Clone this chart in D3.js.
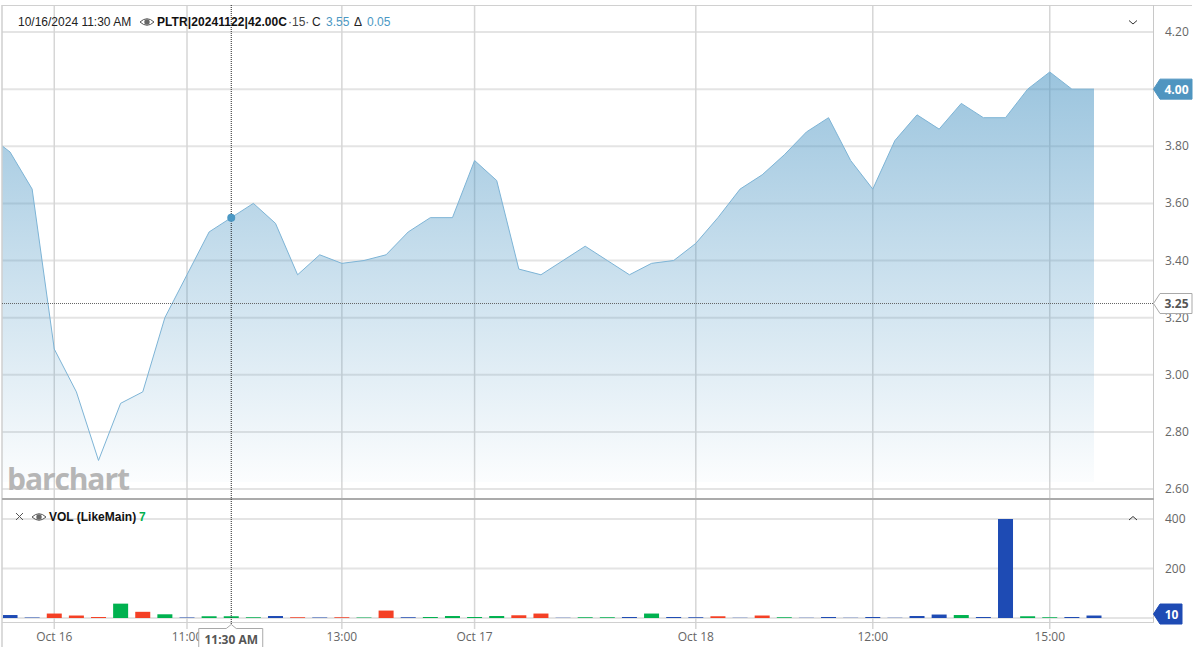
<!DOCTYPE html>
<html>
<head>
<meta charset="utf-8">
<script src="https://cdn.jsdelivr.net/npm/d3@7"></script>
<style>
  html, body { margin: 0; padding: 0; background: #fff; overflow: hidden; }
  text { font-family: "Open Sans", sans-serif; }
  .hdr text { font-family: "Liberation Sans", Arial, sans-serif; font-size: 12px; }
</style>
</head>
<body>
<div id="chart"></div>
<script>
// first entry sits left of the frame, it only shows as the clipped start of the line
const closes = [3.84, 3.78, 3.65, 3.09, 2.94, 2.70, 2.90, 2.94, 3.20, 3.35, 3.50, 3.55, 3.60, 3.53, 3.35, 3.42, 3.39, 3.40, 3.42,
  3.50, 3.55, 3.55, 3.75, 3.68, 3.37, 3.35, 3.40, 3.45, 3.40, 3.35, 3.39, 3.40, 3.46, 3.55, 3.65, 3.70, 3.77, 3.85, 3.90,
  3.75, 3.65, 3.82, 3.91, 3.86, 3.95, 3.90, 3.90, 4.00, 4.06, 4.00, 4.00];
const volumes = [5, 12, 2, 18, 10, 4, 58, 25, 15, 2, 7, 7, 3, 8, 3, 2, 3, 2, 30,
  3, 4, 8, 4, 8, 11, 18, 1, 3, 3, 4, 18, 4, 3, 7, 1, 10, 3, 1, 4,
  1, 4, 1, 8, 14, 12, 4, 400, 7, 3, 4, 10];
// u = up, d = down, n = unchanged
const volumeDirs = "nnnddd udunu uundn dudnu uuudd nuunu nndnd unnnn nnnun nuunn".replace(/ /g, "").split("");
const priceTicks = [4.2, 4.0, 3.8, 3.6, 3.4, 3.2, 3.0, 2.8, 2.6];
const volTicks = [400, 200];
const timeTickIdx = [3, 9, 16, 22, 32, 40, 48];
const timeTickLabels = ["Oct 16", "11:00", "13:00", "Oct 17", "Oct 18", "12:00", "15:00"];
const hoverIdx = 11;
const lastClose = 4.00;
const crossPrice = 3.25;
const lastVol = 10;

const W = 1203, H = 647;
const plotL = 2, plotR = 1153, plotT = 5, plotB = 622, split = 499;

const x = d3.scaleLinear().domain([0, 50]).range([-12.1, 1094]);
const y = d3.scaleLinear().domain([2.6, 4.2]).range([489, 32]);
const yVol = d3.scaleLinear().domain([0, 400]).range([618, 519]);
const volColor = { u: "#00b14f", d: "#f44025", n: "#1e4bb4" };

const svg = d3.select("#chart").append("svg").attr("width", W).attr("height", H).style("display", "block");

const defs = svg.append("defs");
const grad = defs.append("linearGradient").attr("id", "fade")
  .attr("gradientUnits", "userSpaceOnUse").attr("x1", 0).attr("x2", 0).attr("y1", y(4.06)).attr("y2", 482);
grad.append("stop").attr("offset", 0).attr("stop-color", "#4c96c4").attr("stop-opacity", 0.56);
grad.append("stop").attr("offset", 1).attr("stop-color", "#4c96c4").attr("stop-opacity", 0.02);
defs.append("clipPath").attr("id", "plot").append("rect")
  .attr("x", plotL).attr("y", plotT).attr("width", plotR - plotL).attr("height", split - plotT);

// grid
const grid = svg.append("g");
grid.selectAll(".h").data(priceTicks).join("line").attr("class", "h")
  .attr("x1", plotL).attr("x2", plotR).attr("y1", d => y(d)).attr("y2", d => y(d))
  .attr("stroke", "#e4e4e4").attr("stroke-width", 2);
grid.selectAll(".hv").data([...volTicks, 0]).join("line").attr("class", "hv")
  .attr("x1", plotL).attr("x2", plotR).attr("y1", d => yVol(d)).attr("y2", d => yVol(d))
  .attr("stroke", "#e4e4e4").attr("stroke-width", 2);
grid.selectAll(".v").data(timeTickIdx).join("line").attr("class", "v")
  .attr("x1", d => x(d)).attr("x2", d => x(d)).attr("y1", plotT).attr("y2", 629)
  .attr("stroke", "#d6d6d6").attr("stroke-width", 1.5);

// price area and line
const plot = svg.append("g").attr("clip-path", "url(#plot)");
plot.append("path").datum(closes)
  .attr("fill", "url(#fade)")
  .attr("d", d3.area().x((d, i) => x(i)).y0(482).y1(d => y(d)));
plot.append("path").datum(closes)
  .attr("fill", "none").attr("stroke", "#7db4d6").attr("stroke-width", 1)
  .attr("d", d3.line().x((d, i) => x(i)).y(d => y(d)));

// frame
svg.append("line").attr("x1", plotL).attr("x2", plotL).attr("y1", plotT).attr("y2", 647).attr("stroke", "#cfcfcf").attr("stroke-width", 1.5);
svg.append("line").attr("x1", plotL).attr("x2", 1192).attr("y1", plotT + 0.5).attr("y2", plotT + 0.5).attr("stroke", "#d0d0d0");
svg.append("line").attr("x1", plotR + 0.5).attr("x2", plotR + 0.5).attr("y1", plotT).attr("y2", plotB + 1).attr("stroke", "#c8c8c8");
svg.append("line").attr("x1", plotL).attr("x2", plotR + 1).attr("y1", plotB + 0.5).attr("y2", plotB + 0.5).attr("stroke", "#d0d0d0");
svg.append("line").attr("x1", plotL).attr("x2", plotR + 1).attr("y1", split).attr("y2", split).attr("stroke", "#ababab").attr("stroke-width", 2);

// volume bars
svg.append("g").selectAll("rect").data(volumes.slice(1)).join("rect")
  .attr("x", (d, i) => Math.max(x(i + 1) - 7.5, plotL + 1))
  .attr("width", (d, i) => x(i + 1) + 7.5 - Math.max(x(i + 1) - 7.5, plotL + 1))
  .attr("y", d => yVol(d))
  .attr("height", d => yVol(0) - yVol(d))
  .attr("fill", (d, i) => volColor[volumeDirs[i + 1]]);

// watermark
svg.append("text").attr("x", 7).attr("y", 489.5).attr("fill", "#b6b6b6")
  .attr("font-size", 30).attr("font-weight", 700).attr("letter-spacing", -1.1).text("barchart");

// axis labels
const axisLabel = sel => sel.attr("fill", "#666").attr("font-size", 12);
svg.append("g").selectAll("text").data(priceTicks).join("text")
  .attr("x", 1165).attr("y", d => y(d) + 4).call(axisLabel).text(d => d.toFixed(2));
svg.append("g").selectAll("text").data(volTicks).join("text")
  .attr("x", 1165).attr("y", d => yVol(d) + 4).call(axisLabel).text(d => d);
svg.append("g").selectAll("text").data(timeTickIdx).join("text")
  .attr("x", d => x(d)).attr("y", 641).attr("text-anchor", "middle").call(axisLabel)
  .text((d, i) => timeTickLabels[i]);

// crosshair
const hx = x(hoverIdx);
const crossY = Math.round(y(crossPrice)) + 0.5;
svg.append("line").attr("x1", hx).attr("x2", hx).attr("y1", plotT).attr("y2", 625)
  .attr("stroke", "#222").attr("stroke-dasharray", "1,1");
svg.append("line").attr("x1", plotL).attr("x2", plotR).attr("y1", crossY).attr("y2", crossY)
  .attr("stroke", "#666").attr("stroke-dasharray", "1,1");
svg.append("circle").attr("cx", hx).attr("cy", y(closes[hoverIdx])).attr("r", 4).attr("fill", "#4b98c4");

// flags on the price axis
const flag = (yy, w, fill, stroke, textFill, label) => {
  const g = svg.append("g").attr("transform", `translate(${plotR}, ${yy})`);
  g.append("path").attr("d", `M0.5,0 L7,-10 L${w},-10 L${w},10 L7,10 Z`).attr("fill", fill).attr("stroke", stroke);
  g.append("text").attr("x", (w + 8) / 2).attr("y", 4.5).attr("text-anchor", "middle")
    .attr("font-size", 12).attr("font-weight", 700).attr("fill", textFill).text(label);
};
flag(crossY, 39, "#fff", "#a9a9a9", "#555", crossPrice.toFixed(2));
flag(y(lastClose), 39, "#4f95c0", "#4f95c0", "#fff", lastClose.toFixed(2));
flag(yVol(lastVol) - 1.5, 29, "#1e4bb4", "#1e4bb4", "#fff", lastVol);

// hover time box
svg.append("path")
  .attr("d", `M${hx - 32.5},647 L${hx - 32.5},628.5 L${hx - 5},628.5 L${hx},624.5 L${hx + 5},628.5 L${hx + 31.5},628.5 L${hx + 31.5},647`)
  .attr("fill", "#fff").attr("stroke", "#a9a9a9");
svg.append("text").attr("x", hx).attr("y", 644).attr("text-anchor", "middle")
  .attr("font-size", 12).attr("font-weight", 700).attr("fill", "#555").text("11:30 AM");

// header
const eye = (ex, ey) => {
  const g = svg.append("g").attr("transform", `translate(${ex}, ${ey})`);
  g.append("path").attr("d", "M0,0 Q7,-6.5 14,0 Q7,6.5 0,0 Z").attr("fill", "none").attr("stroke", "#555").attr("stroke-width", 1);
  g.append("circle").attr("r", 2.7).attr("cx", 7).attr("fill", "#666");
};
const hdr = svg.append("g").attr("class", "hdr");
hdr.append("text").attr("x", 18).attr("y", 26).attr("fill", "#222").text("10/16/2024 11:30 AM");
eye(140, 22);
hdr.append("text").attr("x", 157).attr("y", 26).attr("fill", "#111").attr("font-weight", 700).attr("textLength", 130).text("PLTR|20241122|42.00C");
hdr.append("text").attr("x", 288).attr("y", 26).attr("fill", "#444").text("·15·");
hdr.append("text").attr("x", 312).attr("y", 26).attr("fill", "#222").text("C");
hdr.append("text").attr("x", 326).attr("y", 26).attr("fill", "#4b98c4").text(closes[hoverIdx].toFixed(2));
hdr.append("text").attr("x", 354).attr("y", 26).attr("fill", "#222").text("Δ");
hdr.append("text").attr("x", 367).attr("y", 26).attr("fill", "#4b98c4").text("0.05");
svg.append("path").attr("d", "M1129,20.5 L1133,24 L1137,20.5").attr("fill", "none").attr("stroke", "#333");

// volume header
svg.append("path").attr("d", "M16,513 L23,520 M23,513 L16,520").attr("stroke", "#555").attr("fill", "none");
eye(32, 517);
hdr.append("text").attr("x", 49).attr("y", 521).attr("fill", "#111").attr("font-weight", 700).text("VOL (LikeMain)");
hdr.append("text").attr("x", 139).attr("y", 521).attr("fill", "#00b14f").attr("font-weight", 700).text(volumes[hoverIdx]);
svg.append("path").attr("d", "M1129,520 L1133,516.5 L1137,520").attr("fill", "none").attr("stroke", "#333");
</script>
</body>
</html>
